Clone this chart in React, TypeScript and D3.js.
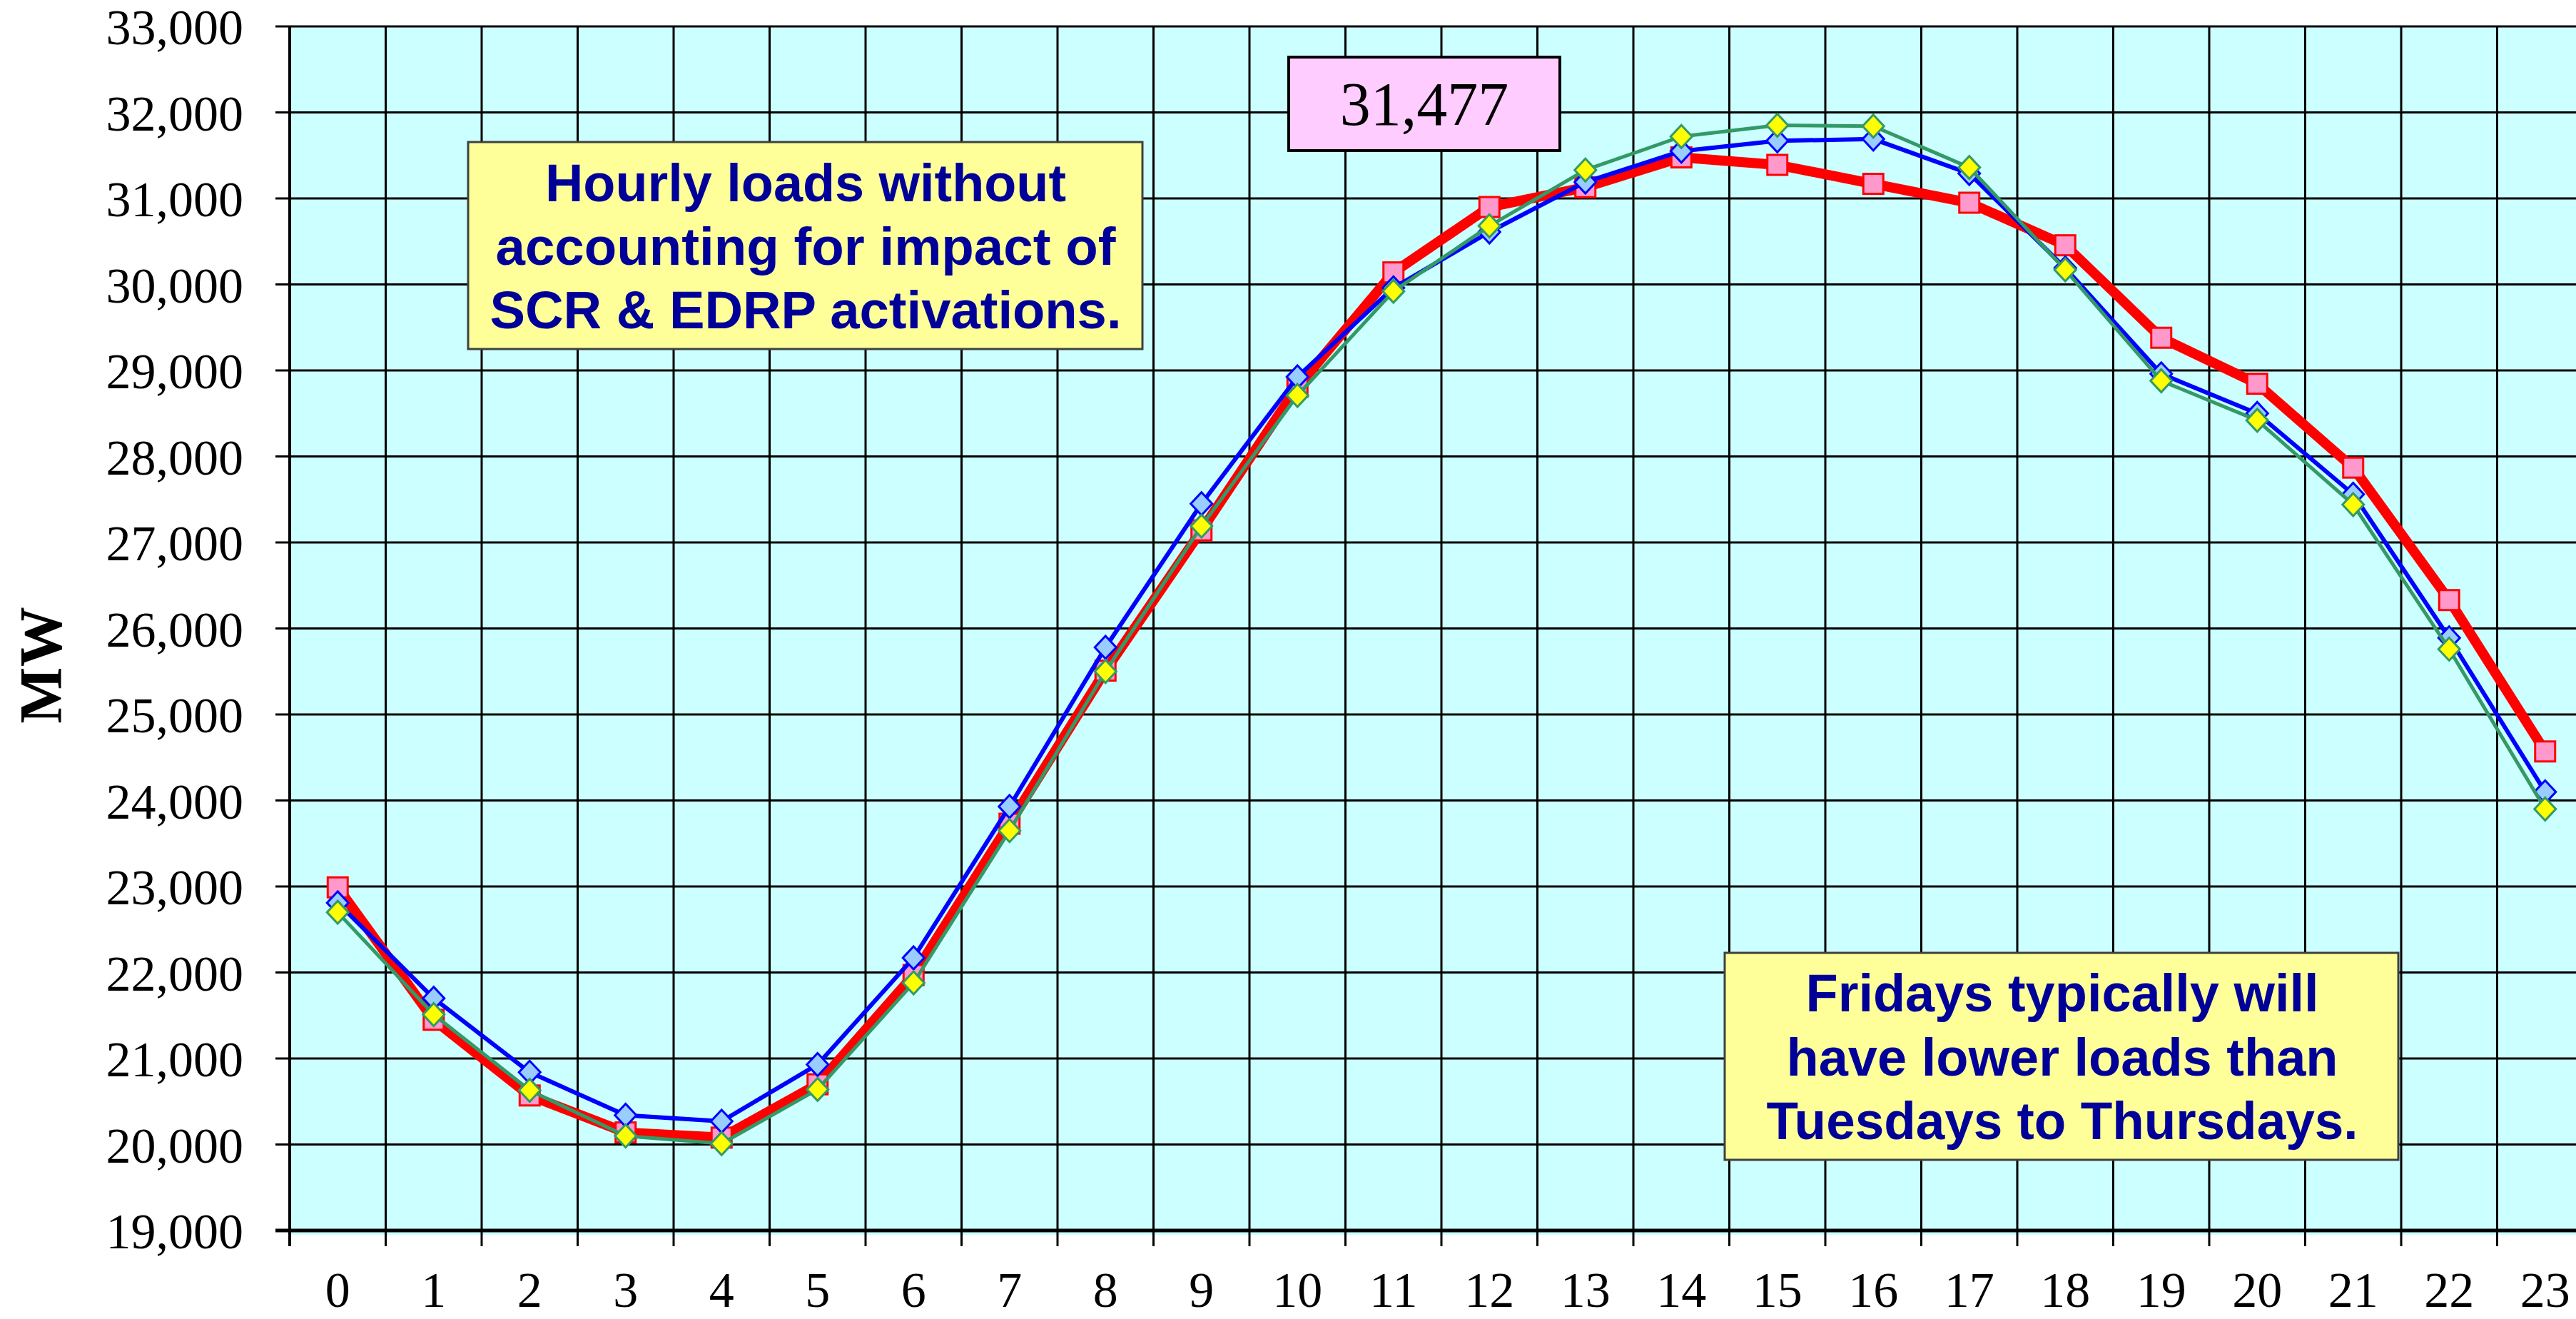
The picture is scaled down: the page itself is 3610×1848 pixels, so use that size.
import React from "react";
import * as d3 from "d3";

const hours = ["0","1","2","3","4","5","6","7","8","9","10","11","12","13","14","15","16","17","18","19","20","21","22","23"];
const yTicks = [19000,20000,21000,22000,23000,24000,25000,26000,27000,28000,29000,30000,31000,32000,33000];

const redSeries = [22990,21450,20570,20140,20080,20700,21970,23730,25510,27140,28810,30140,30900,31130,31477,31390,31170,30950,30455,29380,28845,27870,26330,24570];
const blueSeries = [22810,21700,20840,20340,20270,20930,22170,23930,25780,27450,28925,29960,30610,31190,31550,31670,31690,31290,30190,28960,28500,27560,25890,24100];
const greenSeries = [22700,21510,20630,20100,20010,20640,21880,23650,25500,27190,28710,29920,30680,31330,31720,31850,31840,31360,30170,28880,28420,27440,25760,23900];

const peakLabel = "31,477";
const noteLeft = ["Hourly loads without", "accounting for impact of", "SCR & EDRP activations."];
const noteRight = ["Fridays typically will", "have lower loads than", "Tuesdays to Thursdays."];
const yTitle = "MW";

const W = 3610, H = 1848;
const left = 406, bandW = 134.5, top = 37, bottom = 1724;
const serif = "'Times New Roman', 'Liberation Serif', serif";
const sans = "Arial, 'Liberation Sans', sans-serif";

export default function App() {
  const x = d3.scaleBand<string>().domain(hours).range([left, left + bandW * hours.length]).padding(0);
  const y = d3.scaleLinear().domain([19000, 33000]).range([bottom, top]);
  const cx = (h: string) => (x(h) as number) + x.bandwidth() / 2;
  const line = d3.line<number>().x((_, i) => cx(hours[i])).y((v) => y(v));
  const fmt = d3.format(",");
  const bounds = hours.map((h) => x(h) as number).concat([left + bandW * hours.length]);
  const diamond = "M0,-16L15,0L0,16L-15,0Z";

  const leftW = [730, 869, 885];
  const rightW = [719, 773, 829];

  return (
    <svg width={W} height={H} style={{ position: "absolute", left: 0, top: 0, background: "#fff" }}>
      <rect x={left} y={top} width={W - left} height={bottom - top + 6} fill="#CCFFFF" />
      {yTicks.map((t) => (
        <line key={"h" + t} x1={left - 20} x2={W} y1={y(t)} y2={y(t)} stroke="#000" strokeWidth={t === 19000 ? 5 : 3} />
      ))}
      {bounds.slice(1).map((b, i) => (
        <line key={"v" + i} x1={b} x2={b} y1={top} y2={bottom} stroke="#000" strokeWidth={3} />
      ))}
      {bounds.map((b, i) => (
        <line key={"t" + i} x1={b} x2={b} y1={bottom} y2={bottom + 22} stroke="#000" strokeWidth={3} />
      ))}
      <line x1={left} x2={left} y1={top} y2={bottom + 22} stroke="#000" strokeWidth={4} />
      {yTicks.map((t) => (
        <text key={"yl" + t} x={341} y={y(t) + 25} textAnchor="end" fontFamily={serif} fontSize={70} fill="#000">
          {fmt(t)}
        </text>
      ))}
      {hours.map((h) => (
        <text key={"xl" + h} x={cx(h)} y={1831} textAnchor="middle" fontFamily={serif} fontSize={70} fill="#000">
          {h}
        </text>
      ))}
      <text transform={`translate(86,932) rotate(-90)`} textAnchor="middle" fontFamily={serif} fontWeight="bold" fontSize={84} fill="#000">
        {yTitle}
      </text>

      <path d={line(redSeries) || ""} fill="none" stroke="#FF0000" strokeWidth={14} strokeLinejoin="round" />
      {redSeries.map((v, i) => (
        <rect key={"r" + i} x={cx(hours[i]) - 14} y={y(v) - 14} width={28} height={28} fill="#FF99CC" stroke="#FF0000" strokeWidth={3} />
      ))}
      <path d={line(blueSeries) || ""} fill="none" stroke="#0000FF" strokeWidth={6} strokeLinejoin="round" />
      {blueSeries.map((v, i) => (
        <path key={"b" + i} d={diamond} transform={`translate(${cx(hours[i])},${y(v)})`} fill="#99CCFF" stroke="#0000FF" strokeWidth={3} />
      ))}
      <path d={line(greenSeries) || ""} fill="none" stroke="#339966" strokeWidth={5} strokeLinejoin="round" />
      {greenSeries.map((v, i) => (
        <path key={"g" + i} d={diamond} transform={`translate(${cx(hours[i])},${y(v)})`} fill="#FFFF00" stroke="#339966" strokeWidth={3} />
      ))}

      <rect x={1806} y={80} width={380} height={131} fill="#FFCCFF" stroke="#000" strokeWidth={4} />
      <text x={1996} y={175} textAnchor="middle" fontFamily={serif} fontSize={86} fill="#000">
        {peakLabel}
      </text>

      <rect x={656} y={199} width={945} height={290} fill="#FFFF99" stroke="#404040" strokeWidth={3} />
      {noteLeft.map((s, i) => (
        <text key={"nl" + i} x={1129} y={282 + i * 89} textAnchor="middle" fontFamily={sans} fontWeight="bold" fontSize={74} fill="#000099"
          textLength={leftW[i]} lengthAdjust="spacingAndGlyphs">
          {s}
        </text>
      ))}

      <rect x={2417} y={1335} width={944} height={290} fill="#FFFF99" stroke="#404040" strokeWidth={3} />
      {noteRight.map((s, i) => (
        <text key={"nr" + i} x={2890} y={1417 + i * 89.5} textAnchor="middle" fontFamily={sans} fontWeight="bold" fontSize={74} fill="#000099"
          textLength={rightW[i]} lengthAdjust="spacingAndGlyphs">
          {s}
        </text>
      ))}
    </svg>
  );
}
